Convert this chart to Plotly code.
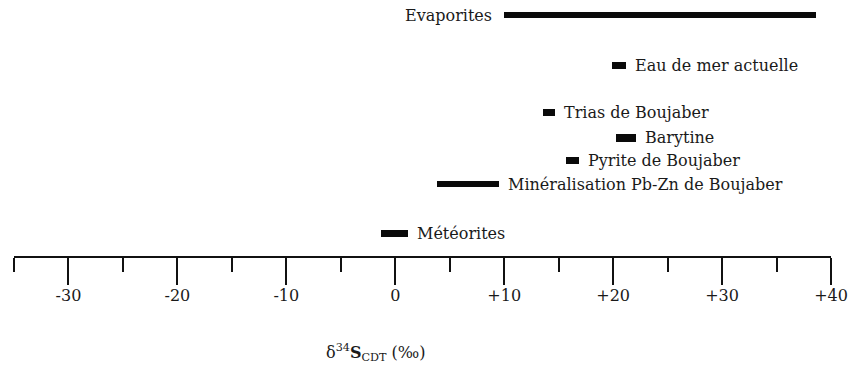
import plotly.graph_objects as go

# Sulphur isotope ranges (δ34S, ‰ vs CDT)
sources = [
    "Evaporites",
    "Eau de mer actuelle",
    "Trias de Boujaber",
    "Barytine",
    "Pyrite de Boujaber",
    "Minéralisation Pb-Zn de Boujaber",
    "Météorites",
]
d34s_min = [10.0, 19.9, 13.6, 20.3, 15.7, 3.8, -1.3]
d34s_max = [38.6, 21.2, 14.7, 22.1, 16.9, 9.5, 1.2]

# Axis ticks
major_ticks = [-30, -20, -10, 0, 10, 20, 30, 40]
major_labels = ["-30", "-20", "-10", "0", "+10", "+20", "+30", "+40"]
minor_ticks = [-35, -25, -15, -5, 5, 15, 25, 35]

# Layout: vertical slot of each row, bar thickness, label side
row_slot = [0, 2.1, 4.08, 5.12, 6.05, 7.05, 9.1]
bar_thickness = [0.23, 0.29, 0.29, 0.31, 0.29, 0.27, 0.29]
label_left = [True, False, False, False, False, False, False]

FONT = "DejaVu Serif"
INK = "#1a1a1a"

fig = go.Figure()

fig.add_trace(go.Bar(
    y=row_slot,
    x=[hi - lo for lo, hi in zip(d34s_min, d34s_max)],
    base=d34s_min,
    width=bar_thickness,
    orientation="h",
    marker=dict(color="#0a0a0a", line=dict(width=0)),
    hoverinfo="skip",
    showlegend=False,
))

for name, lo, hi, slot, left in zip(sources, d34s_min, d34s_max, row_slot, label_left):
    fig.add_annotation(
        x=lo if left else hi,
        y=slot,
        xref="x", yref="y",
        text=name,
        showarrow=False,
        xanchor="right" if left else "left",
        yanchor="middle",
        xshift=-10 if left else 7,
        font=dict(family=FONT, size=16, color=INK),
    )

fig.add_annotation(
    x=(377 - 14) / 819, y=0,
    xref="paper", yref="paper",
    yshift=-96,
    text="δ<sup>34</sup><b>S</b><sub>CDT</sub> (‰)",
    showarrow=False,
    xanchor="center", yanchor="middle",
    font=dict(family=FONT, size=16, color=INK),
)

fig.update_layout(
    width=848, height=365,
    margin=dict(l=14, r=15, t=0, b=109),
    paper_bgcolor="white",
    plot_bgcolor="white",
    bargap=0,
    xaxis=dict(
        range=[-35, 40],
        showgrid=False,
        zeroline=False,
        showline=True,
        linecolor="#111",
        linewidth=2,
        tickmode="array",
        tickvals=major_ticks,
        ticktext=major_labels,
        ticks="outside",
        ticklen=27,
        tickwidth=2,
        tickcolor="#111",
        ticklabelstandoff=-3,
        ticklabeloverflow="allow",
        tickfont=dict(family=FONT, size=16, color=INK),
        minor=dict(
            tickmode="array",
            tickvals=minor_ticks,
            ticks="outside",
            ticklen=14,
            tickwidth=2,
            tickcolor="#111",
            showgrid=False,
        ),
        fixedrange=True,
    ),
    yaxis=dict(
        range=[10.04, -0.625],
        visible=False,
        fixedrange=True,
    ),
)

fig.write_html("out.html")
